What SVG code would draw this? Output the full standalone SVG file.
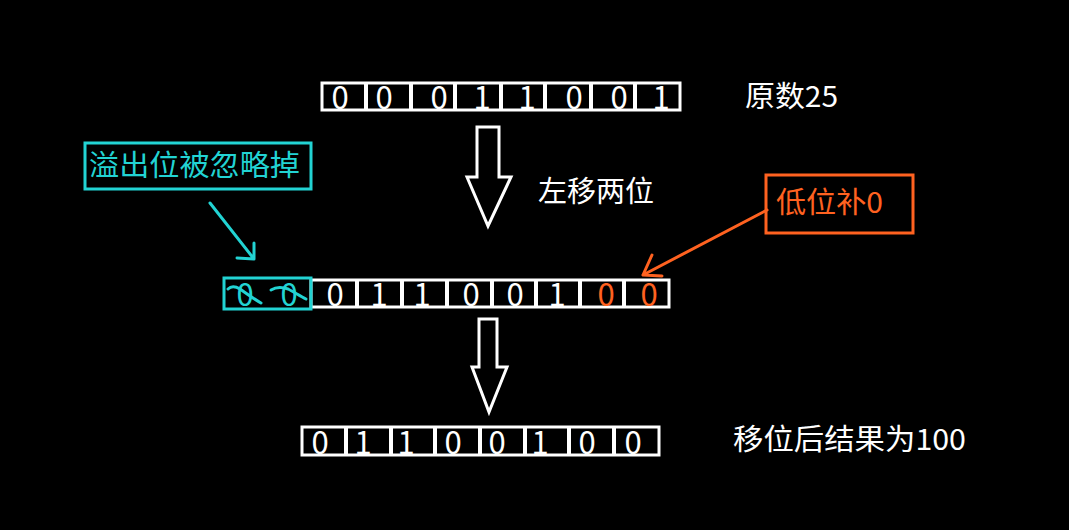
<svg xmlns="http://www.w3.org/2000/svg" width="1069" height="530" viewBox="0 0 1069 530">
<style>
.cell{fill:#000;stroke:#fff;stroke-width:3}
.d{font-family:"Noto Sans CJK SC","Liberation Sans",sans-serif;font-size:31px;fill:#fff;text-anchor:middle}
.t{font-family:"Noto Sans CJK SC","Liberation Sans",sans-serif;font-size:29px;fill:#fff}
.cy{stroke:#22D3D3;fill:none;stroke-width:3;stroke-linecap:round;stroke-linejoin:round}
.or{stroke:#FF6220;fill:none;stroke-width:3;stroke-linecap:round;stroke-linejoin:round}
.big{fill:#000;stroke:#fff;stroke-width:3;stroke-linejoin:miter}
</style>
<rect width="1069" height="530" fill="#000"/>

<g id="row-original">
<rect class="cell" x="322" y="83" width="358" height="27"/>
<path d="M366 83V110M411 83V110M455 83V110M501 83V110M545 83V110M591 83V110M635 83V110" stroke="#fff" stroke-width="4"/>
<text class="d" y="109"><tspan x="340">0</tspan><tspan x="384">0</tspan><tspan x="439">0</tspan><tspan x="482">1</tspan><tspan x="527">1</tspan><tspan x="574">0</tspan><tspan x="619">0</tspan><tspan x="661">1</tspan></text>
</g>

<g id="label-original">
<text class="t" x="745" y="107" textLength="93" lengthAdjust="spacingAndGlyphs">原数25</text>
</g>

<g id="arrow-shift">
<path class="big" d="M477 127H499V177H511L488 226L467 177H477Z"/>
</g>

<g id="label-shift">
<text class="t" x="538" y="202">左移两位</text>
</g>

<g id="row-shifted">
<rect class="cell" x="311" y="280" width="358" height="27"/>
<path d="M357 280V307M402 280V307M447 280V307M492 280V307M536 280V307M580 280V307M624 280V307" stroke="#fff" stroke-width="4"/>
<text class="d" y="306"><tspan x="335">0</tspan><tspan x="379">1</tspan><tspan x="422">1</tspan><tspan x="471">0</tspan><tspan x="515">0</tspan><tspan x="557">1</tspan><tspan x="606" fill="#FF6220">0</tspan><tspan x="649" fill="#FF6220">0</tspan></text>
</g>

<g id="overflow-bits">
<rect x="224" y="278" width="87" height="31" fill="none" stroke="#22D3D3" stroke-width="3"/>
<text class="d" y="306" style="fill:#22D3D3"><tspan x="245">0</tspan><tspan x="289">0</tspan></text>
<path class="cy" d="M228 289C231 286 235 286 240 289C247 294 254 299 261 303"/>
<path class="cy" d="M271 290C276 287 282 287 288 289C294 292 300 296 306 299"/>
</g>

<g id="label-overflow">
<rect x="85" y="143" width="226" height="46" fill="none" stroke="#22D3D3" stroke-width="3"/>
<text class="t" x="89" y="176" textLength="211" lengthAdjust="spacingAndGlyphs" style="fill:#22D3D3">溢出位被忽略掉</text>
</g>

<g id="label-pad">
<rect x="766" y="175" width="147" height="58" fill="none" stroke="#FF6220" stroke-width="3"/>
<text class="t" x="776" y="213" textLength="107" lengthAdjust="spacingAndGlyphs" style="fill:#FF6220">低位补0</text>
</g>

<g id="arrow-result">
<path class="big" d="M479 319H497V367H507L489 412L472 367H479Z"/>
</g>

<g id="row-result">
<rect class="cell" x="302" y="427" width="357" height="28"/>
<path d="M346 427V455M391 427V455M435 427V455M480 427V455M525 427V455M569 427V455M614 427V455" stroke="#fff" stroke-width="4"/>
<text class="d" y="454"><tspan x="320">0</tspan><tspan x="363">1</tspan><tspan x="406">1</tspan><tspan x="453">0</tspan><tspan x="497">0</tspan><tspan x="540">1</tspan><tspan x="587">0</tspan><tspan x="633">0</tspan></text>
</g>

<g id="label-result">
<text class="t" x="733" y="450" textLength="233" lengthAdjust="spacingAndGlyphs">移位后结果为100</text>
</g>

<g id="connectors">
<path class="cy" d="M210 203L254 259M254 243L254 259L237 258"/>
<path class="or" d="M767 210L643 275M652 255L643 275L662 276"/>
</g>
</svg>
